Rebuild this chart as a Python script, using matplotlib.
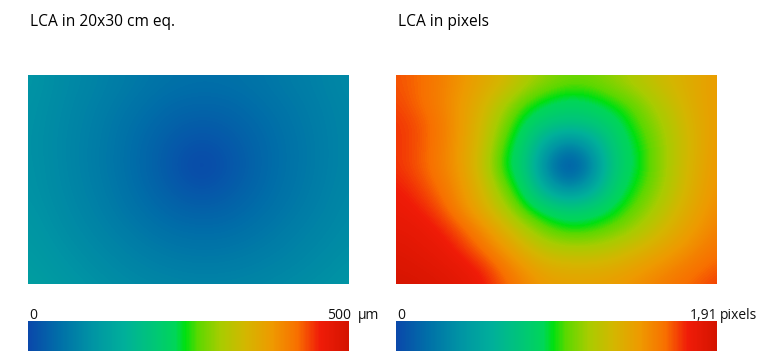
import numpy as np
import matplotlib
matplotlib.use("Agg")
import matplotlib.pyplot as plt
from matplotlib.colors import LinearSegmentedColormap

plt.rcParams["font.family"] = ["Open Sans", "DejaVu Sans"]

# Grille d'échantillonnage (cm, image 30 x 20 cm) - noeuds espacés de 2 cm
GRID_X = np.arange(0.2, 31.0, 2.0)   # 16 colonnes
GRID_Y = np.arange(0.7, 22.0, 2.0)   # 11 lignes
STEP = 2.0

# LCA en µm (équivalent tirage 20x30 cm), lignes de haut en bas
LCA_UM = [
    [102, 93, 85, 78, 70, 63, 56, 52, 50, 51, 54, 59, 66, 72, 79, 86],
    [99, 91, 82, 74, 65, 56, 47, 41, 39, 40, 45, 53, 60, 68, 76, 83],
    [98, 89, 80, 71, 60, 49, 39, 30, 26, 29, 37, 46, 56, 65, 74, 81],
    [97, 88, 79, 69, 58, 45, 32, 19, 12, 18, 30, 42, 53, 63, 73, 81],
    [98, 89, 79, 69, 57, 44, 30, 13, 0, 12, 27, 41, 53, 63, 73, 81],
    [99, 90, 81, 71, 60, 47, 34, 21, 13, 20, 32, 44, 55, 65, 75, 83],
    [102, 93, 84, 75, 64, 53, 43, 34, 30, 33, 41, 50, 60, 69, 78, 86],
    [106, 97, 88, 80, 71, 62, 53, 47, 45, 46, 51, 59, 67, 75, 82, 89],
    [110, 102, 94, 86, 79, 71, 65, 60, 58, 59, 63, 68, 74, 81, 87, 94],
    [116, 107, 100, 93, 86, 80, 75, 72, 70, 71, 73, 77, 82, 87, 93, 100],
    [122, 114, 106, 100, 94, 89, 85, 82, 81, 81, 83, 86, 90, 95, 100, 103],
]

# LCA en pixels du capteur
LCA_PX = [
    [1.65, 1.61, 1.55, 1.47, 1.38, 1.30, 1.17, 1.09, 1.04, 1.05, 1.10, 1.17, 1.25, 1.32, 1.38, 1.44],
    [1.67, 1.61, 1.54, 1.44, 1.32, 1.15, 0.99, 0.89, 0.84, 0.87, 0.95, 1.03, 1.16, 1.27, 1.38, 1.44],
    [1.70, 1.65, 1.57, 1.44, 1.27, 1.06, 0.85, 0.75, 0.72, 0.74, 0.82, 0.96, 1.09, 1.23, 1.36, 1.44],
    [1.70, 1.65, 1.56, 1.43, 1.25, 0.97, 0.78, 0.46, 0.25, 0.45, 0.76, 0.90, 1.05, 1.21, 1.35, 1.46],
    [1.70, 1.64, 1.55, 1.43, 1.21, 0.92, 0.75, 0.25, 0.00, 0.24, 0.74, 0.88, 1.04, 1.22, 1.36, 1.47],
    [1.74, 1.68, 1.59, 1.46, 1.28, 1.03, 0.81, 0.47, 0.26, 0.46, 0.78, 0.93, 1.07, 1.23, 1.38, 1.48],
    [1.77, 1.73, 1.65, 1.50, 1.34, 1.15, 0.94, 0.82, 0.76, 0.80, 0.88, 1.01, 1.14, 1.29, 1.41, 1.51],
    [1.80, 1.78, 1.73, 1.63, 1.49, 1.32, 1.15, 1.01, 0.94, 0.96, 1.03, 1.12, 1.24, 1.36, 1.46, 1.55],
    [1.84, 1.81, 1.78, 1.71, 1.60, 1.46, 1.32, 1.21, 1.18, 1.18, 1.22, 1.29, 1.37, 1.45, 1.53, 1.59],
    [1.87, 1.85, 1.82, 1.79, 1.72, 1.59, 1.47, 1.38, 1.36, 1.36, 1.38, 1.43, 1.49, 1.55, 1.60, 1.65],
    [1.91, 1.89, 1.86, 1.82, 1.76, 1.64, 1.53, 1.45, 1.43, 1.43, 1.45, 1.50, 1.55, 1.60, 1.65, 1.70],
]

MAX_UM = 500
MAX_PX = 1.91

# Palette type "spectre" bleu -> vert -> jaune -> rouge
STOPS = [0.0, 0.10, 0.20, 0.30, 0.40, 0.46, 0.49, 0.53, 0.60, 0.68, 0.76, 0.84, 0.91, 1.0]
COULEURS = ["#0a48aa", "#0070a8", "#0094a4", "#00b09a", "#00c874", "#00d658", "#00e010",
            "#5cd800", "#a8cc00", "#d4b600", "#ee9a00", "#f87000", "#f01c08", "#d41400"]
cmap = LinearSegmentedColormap.from_list("lca", list(zip(STOPS, COULEURS)))

W, H = 770, 361
fig = plt.figure(figsize=(W / 100, H / 100), dpi=100)


def rect(x0, y0, x1, y1):
    return [x0 / W, 1 - y1 / H, (x1 - x0) / W, (y1 - y0) / H]


def tracer_carte(pos, valeurs, vmax):
    ax = fig.add_axes(rect(*pos))
    extent = (GRID_X[0] - STEP / 2, GRID_X[-1] + STEP / 2,
              GRID_Y[-1] + STEP / 2, GRID_Y[0] - STEP / 2)
    im = ax.imshow(np.array(valeurs), cmap=cmap, vmin=0, vmax=vmax, extent=extent,
                   interpolation="bicubic", interpolation_stage="data", aspect="auto")
    ax.set_xlim(0, 30)
    ax.set_ylim(20, 0)
    ax.set_axis_off()
    return im


def tracer_barre(pos, im):
    cax = fig.add_axes(rect(*pos))
    cb = fig.colorbar(im, cax=cax, orientation="horizontal")
    cb.set_ticks([])
    cb.outline.set_visible(False)


im_um = tracer_carte((28, 75, 349, 284), LCA_UM, MAX_UM)
im_px = tracer_carte((396, 75, 717, 284), LCA_PX, MAX_PX)
tracer_barre((28, 321, 349, 351), im_um)
tracer_barre((396, 321, 717, 351), im_px)

titre = dict(fontsize=11.2, color="#000000", va="baseline")
fig.text(30 / W, 1 - 26 / H, "LCA in 20x30 cm eq.", ha="left", **titre)
fig.text(398 / W, 1 - 26 / H, "LCA in pixels", ha="left", **titre)

lab = dict(fontsize=10, color="#111111", va="baseline")
y_lab = 1 - 319 / H
fig.text(29 / W, y_lab, "0", ha="left", **lab)
fig.text(351 / W, y_lab, f"{MAX_UM}", ha="right", **lab)
fig.text(358 / W, y_lab, "µm", ha="left", **lab)
fig.text(397 / W, y_lab, "0", ha="left", **lab)
fig.text(717 / W, y_lab, f"{MAX_PX}".replace(".", ","), ha="right", **lab)
fig.text(720 / W, y_lab, "pixels", ha="left", **lab)

fig.savefig("out.png", dpi=100)
